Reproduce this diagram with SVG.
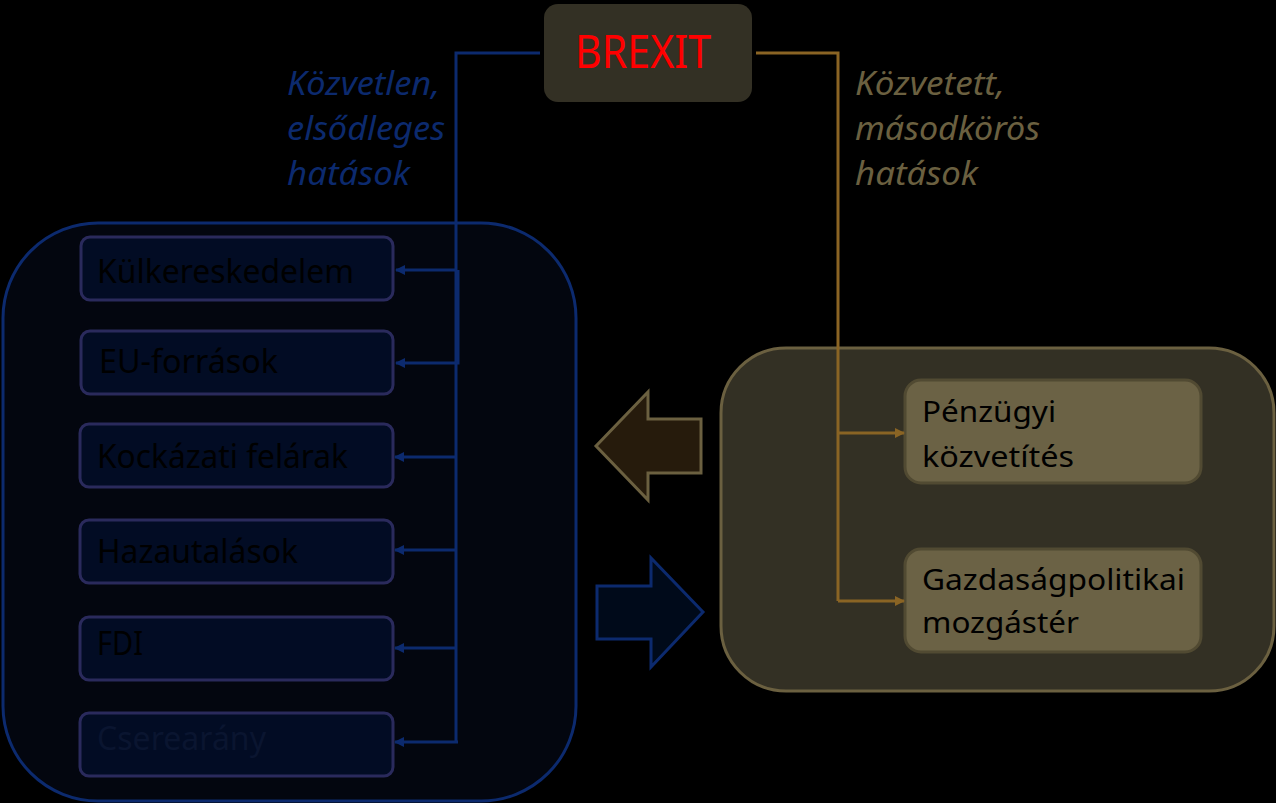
<svg xmlns="http://www.w3.org/2000/svg" width="1276" height="803" viewBox="0 0 1276 803">
<defs>
<marker id="ab" markerWidth="10" markerHeight="10" refX="9" refY="5" orient="auto" markerUnits="userSpaceOnUse"><path d="M0,0 L10,5 L0,10 Z" fill="#0c2a6e"/></marker>
<marker id="ao" markerWidth="10" markerHeight="10" refX="9" refY="5" orient="auto" markerUnits="userSpaceOnUse"><path d="M0,0 L10,5 L0,10 Z" fill="#8a6424"/></marker>
<style>
.t{font-family:"Noto Sans","Open Sans",sans-serif;}
.lb{fill:#020c24;stroke:#2a2a5c;stroke-width:3;}
.lt{font-size:33px;fill:#000;}
.rb{fill:#6b6245;stroke:#514a32;stroke-width:3;}
.rt{font-size:29px;fill:#000;}
.cb{fill:none;stroke:#0c2a6e;stroke-width:3;}
.co{fill:none;stroke:#8a6424;stroke-width:3;}
.it{font-size:32px;font-style:italic;}
</style>
</defs>
<rect width="1276" height="803" fill="#000"/>
<g id="left-container"><rect x="3" y="223" width="573" height="578" rx="95" fill="#03060f" stroke="#0c2a6e" stroke-width="3"/></g>
<g id="right-container"><rect x="721" y="348" width="553" height="343" rx="65" fill="#333024" stroke="#6b6040" stroke-width="3"/></g>
<g id="brexit"><rect x="544" y="4" width="208" height="98" rx="14" fill="#333024"/><text class="t" x="575" y="68" font-size="46" fill="#ff0000" textLength="136" lengthAdjust="spacingAndGlyphs">BREXIT</text></g>
<g id="label-direct" class="t it" fill="#0c2a6e">
<text x="287" y="95" textLength="153" lengthAdjust="spacingAndGlyphs">Közvetlen,</text>
<text x="287" y="140" textLength="158" lengthAdjust="spacingAndGlyphs">elsődleges</text>
<text x="287" y="185" textLength="123" lengthAdjust="spacingAndGlyphs">hatások</text>
</g>
<g id="label-indirect" class="t it" fill="#6b6040">
<text x="855" y="95" textLength="150" lengthAdjust="spacingAndGlyphs">Közvetett,</text>
<text x="855" y="140" textLength="185" lengthAdjust="spacingAndGlyphs">másodkörös</text>
<text x="855" y="185" textLength="123" lengthAdjust="spacingAndGlyphs">hatások</text>
</g>
<g id="n-kulker"><rect class="lb" x="81" y="237" width="312" height="63" rx="9"/><text class="t lt" x="97" y="283" textLength="257" lengthAdjust="spacingAndGlyphs">Külkereskedelem</text></g>
<g id="n-eu"><rect class="lb" x="81" y="331" width="312" height="63" rx="9"/><text class="t lt" x="99" y="373" textLength="179" lengthAdjust="spacingAndGlyphs">EU-források</text></g>
<g id="n-kock"><rect class="lb" x="80" y="424" width="313" height="63" rx="9"/><text class="t lt" x="97" y="468" textLength="251" lengthAdjust="spacingAndGlyphs">Kockázati felárak</text></g>
<g id="n-haza"><rect class="lb" x="80" y="520" width="313" height="63" rx="9"/><text class="t lt" x="97" y="563" textLength="201" lengthAdjust="spacingAndGlyphs">Hazautalások</text></g>
<g id="n-fdi"><rect class="lb" x="80" y="617" width="313" height="63" rx="9"/><text class="t lt" x="97" y="655" textLength="46" lengthAdjust="spacingAndGlyphs">FDI</text></g>
<g id="n-csere"><rect class="lb" x="80" y="713" width="313" height="63" rx="9"/><text class="t lt" x="97" y="750" textLength="169" lengthAdjust="spacingAndGlyphs" style="fill:#0a1530">Cserearány</text></g>
<g id="n-penz"><rect class="rb" x="905" y="380" width="296" height="103" rx="16"/><text class="t rt" x="922" y="422" textLength="134" lengthAdjust="spacingAndGlyphs">Pénzügyi</text><text class="t rt" x="922" y="467" textLength="152" lengthAdjust="spacingAndGlyphs">közvetítés</text></g>
<g id="n-gazd"><rect class="rb" x="905" y="549" width="296" height="103" rx="16"/><text class="t rt" x="922" y="590" textLength="263" lengthAdjust="spacingAndGlyphs">Gazdaságpolitikai</text><text class="t rt" x="922" y="633" textLength="157" lengthAdjust="spacingAndGlyphs">mozgástér</text></g>
<g id="big-arrows">
<path d="M596,446 L648,392 L648,419 L701,419 L701,473 L648,473 L648,500 Z" fill="#261b0c" stroke="#6b6040" stroke-width="3"/>
<path d="M597,586 L651,586 L651,558 L703,612 L651,667 L651,639 L597,639 Z" fill="#000a1a" stroke="#0c2a6e" stroke-width="3"/>
</g>
<g id="connectors">
<path class="cb" d="M540,53 L456,53 L456,742"/>
<path class="cb" d="M456,270 L396,270" marker-end="url(#ab)"/>
<path class="cb" d="M458,270 L458,363 L396,363" marker-end="url(#ab)"/>
<path class="cb" d="M456,457 L395,457" marker-end="url(#ab)"/>
<path class="cb" d="M456,550 L395,550" marker-end="url(#ab)"/>
<path class="cb" d="M456,648 L395,648" marker-end="url(#ab)"/>
<path class="cb" d="M458,742 L395,742" marker-end="url(#ab)"/>
<path class="co" d="M756,53 L838,53 L838,601"/>
<path class="co" d="M838,433 L904,433" marker-end="url(#ao)"/>
<path class="co" d="M838,601 L904,601" marker-end="url(#ao)"/>
</g>
</svg>
